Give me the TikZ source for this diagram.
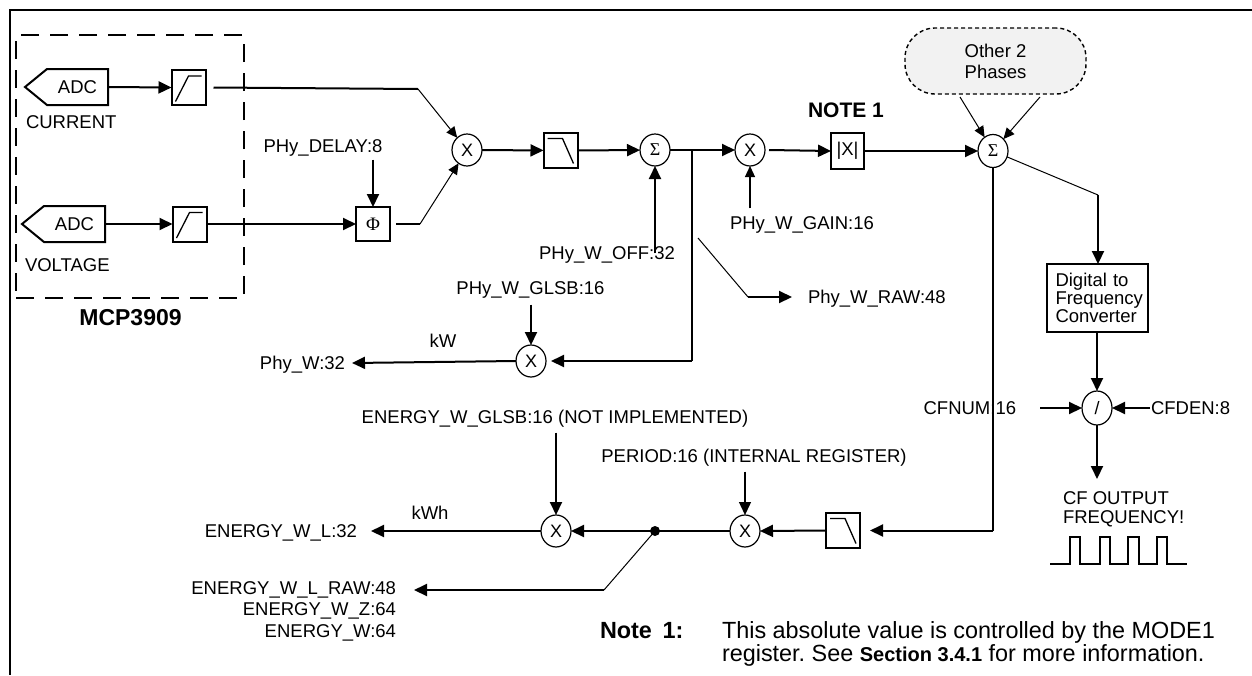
\documentclass[tikz,border=0pt]{standalone}
\usepackage{fontspec}
\setmainfont{Liberation Sans}
\newfontfamily\grserif{Liberation Serif}
\usetikzlibrary{arrows.meta,shapes.geometric}
\begin{document}
\frenchspacing
\begin{tikzpicture}[x=1pt,y=-1pt,
  every node/.style={inner sep=0pt, outer sep=0pt},
  lbl/.style={font=\fontsize{18.5}{21}\selectfont, text height=13.2pt, text depth=0pt},
  conn/.style={line width=2pt},
  thinl/.style={line width=1pt},
  arr/.style={-{Triangle[length=13pt,width=12pt]}},
  sarr/.style={-{Triangle[length=11pt,width=10pt]}},
  blk/.style={draw, line width=2pt, minimum width=34pt, minimum height=35pt},
  op/.style={draw, ellipse, line width=1.2pt, minimum width=30pt, minimum height=32pt, font=\fontsize{18}{20}\selectfont},
  sigop/.style={op, font=\grserif\fontsize{18}{20}\selectfont},
  adcbody/.style={minimum width=61pt, minimum height=36pt, font=\fontsize{18.5}{21}\selectfont},
  hpsym/.pic={\draw[line width=1.3pt] (-13,14) -- (0,-11.5) -- (13,-11.5);},
  lpsym/.pic={\draw[line width=1.3pt] (-13,-12) -- (2,-12) -- (13,13);},
]
\useasboundingbox (0,0) rectangle (1252,675);
% frame
\draw[line width=2pt] (1252,10) -- (10,10) -- (10,675);

% MCP3909 box
\node[draw, line width=2pt, dash pattern=on 18pt off 11pt, minimum width=228pt, minimum height=263pt] (mcp) at (130,166.5) {};
\node[font=\bfseries\fontsize{23}{25}\selectfont] (mcplbl) at (130.5,318) {MCP3909};

% ADCs
\node[adcbody] (adc1) at (77.5,87) {ADC};
\draw[line width=2pt] (adc1.north west) -- (adc1.north east) -- (adc1.south east) -- (adc1.south west) -- ++(-22,-18) -- cycle;
\node[adcbody] (adc2) at (74.5,224) {ADC};
\draw[line width=2pt] (adc2.north west) -- (adc2.north east) -- (adc2.south east) -- (adc2.south west) -- ++(-22,-18) -- cycle;
\node[lbl, anchor=west] (cur) at (26,122) {CURRENT};
\node[lbl, anchor=west] (volt) at (25,265) {VOLTAGE};

% high-pass filters
\node[blk] (hp1) at (188.5,87.5) {};
\pic at (hp1.center) {hpsym};
\node[blk] (hp2) at (189.5,224) {};
\pic at (hp2.center) {hpsym};
\draw[conn,arr] (adc1.east) -- (hp1.west);
\draw[conn,arr] (adc2.east) -- (hp2.west);

% phase delay
\node[blk, minimum width=34pt, minimum height=34pt, font=\grserif\fontsize{19}{21}\selectfont] (phi) at (373,224) {Φ};
\node[lbl] (delay) at (323,146) {PHy\_DELAY:8};
\draw[conn,arr] (hp2.east) -- (phi.west);
\draw[conn,arr] ([yshift=-7pt]phi.north |- delay.south) -- (phi.north);

% multiplier 1
\node[op] (x1) at (467,150) {X};
\coordinate (b1) at (418,89);
\coordinate (b2) at (420,224);
\draw[conn] ([xshift=8pt]hp1.east) -- (b1);
\draw[thinl,sarr] (b1) -- (x1);
\draw[conn] ([xshift=6pt]phi.east) -- (b2);
\draw[thinl,sarr] (b2) -- (x1);

% low-pass 1 and sum 1
\node[blk, minimum height=35pt] (lp1) at (560.5,150.5) {};
\pic at (lp1.center) {lpsym};
\node[sigop] (s1) at (655,150) {Σ};
\node[lbl] (woff) at (607,253) {PHy\_W\_OFF:32};
\draw[conn,arr] (x1) -- (lp1);
\draw[conn,arr] (lp1) -- (s1);
\draw[conn,arr] ([yshift=-7pt]s1.south |- woff.north) -- (s1.south);

% multiplier 2, abs
\coordinate (j1) at (692,150);
\node[op] (x2) at (750,150) {X};
\node[lbl, anchor=west] (gain) at (730,223) {PHy\_W\_GAIN:16};
\draw[conn] (s1) -- (j1);
\draw[conn,arr] (j1) -- (x2);
\draw[line width=1.2pt,sarr] ([yshift=8pt]x2.south |- gain.north) -- (x2.south);
\node[blk, minimum width=33pt, minimum height=36pt, font=\fontsize{18.5}{21}\selectfont] (abs) at (847.5,151) {|X|};
\node[font=\bfseries\fontsize{21}{23}\selectfont] (note1) at (846,110) {NOTE 1};
\draw[conn,arr] ([xshift=4pt]x2.east) -- (abs.west);

% other phases and sum 2
\node[draw, dash pattern=on 4pt off 3pt, line width=1.4pt, fill=black!5, rounded corners=30pt, minimum width=181pt, minimum height=66pt, align=center, font=\fontsize{18.5}{21}\selectfont] (cloud) at (995.5,61) {Other 2\\Phases};
\node[sigop, minimum height=33pt] (s2) at (993,151) {Σ};
\draw[conn,arr] (abs.east) -- (s2.west);
\draw[thinl,sarr] ([xshift=-35.5pt,yshift=-3pt]cloud.south) -- (s2);
\draw[thinl,sarr] ([xshift=44.5pt,yshift=-3pt]cloud.south) -- (s2);

% digital to frequency
\node[draw, line width=2pt, minimum width=101pt, minimum height=68pt, text width=84pt, align=left, font=\fontsize{18.5}{18}\selectfont] (dfc) at (1097.5,298) {Digital to\\Frequency\\Converter};
\coordinate (d1) at (1098,195);
\draw[thinl] (s2) -- (d1);
\draw[conn,arr] (d1) -- (d1 |- dfc.north);

% divider
\node[op, minimum height=34pt] (div) at (1097,408) {/};
\node[lbl, anchor=west] (cfnum) at (923.6,408) {CFNUM:16};
\node[lbl, anchor=west] (cfden) at (1151,408) {CFDEN:8};
\coordinate (cfa) at (1040,408);
\coordinate (cfo) at (1097,479);
\draw[conn,arr] (dfc.south -| div.north) -- (div.north);
\draw[conn,arr] (cfa) -- (div.west);
\draw[conn,arr] ([xshift=-1pt]cfden.west) -- (div.east);
\draw[conn,arr] (div.south) -- (cfo);
\node[anchor=north west, align=left, font=\fontsize{18.5}{19}\selectfont] (cfout) at (1063,491.4) {CF OUTPUT\\FREQUENCY!};
\draw[line width=2pt] (1050,564) -- (1070,564) -- (1070,537) -- (1080,537) -- (1080,564) -- (1100,564) -- (1100,537) -- (1110,537) -- (1110,564) -- (1128,564) -- (1128,537) -- (1139,537) -- (1139,564) -- (1157,564) -- (1157,537) -- (1167,537) -- (1167,564) -- (1187,564);

% power output branch
\coordinate (c1) at (692,361);
\node[op] (x3) at (531,361) {X};
\node[lbl] (glsb) at (530.5,288) {PHy\_W\_GLSB:16};
\node[lbl] (kw) at (443,341) {kW};
\node[lbl, anchor=east] (phyw) at (345,363) {Phy\_W:32};
\draw[conn] (j1) -- (c1);
\draw[conn,arr,shorten >=5pt] (c1) -- (x3.east);
\draw[conn,arr] ([yshift=-10pt]x3.north |- glsb.south) -- (x3.north);
\draw[conn,arr] (x3.west) -- ([xshift=7pt]phyw.east);

% raw power output
\coordinate (rt) at (698,238);
\coordinate (rb) at (748,297);
\node[lbl, anchor=west] (rawlbl) at (808,297) {Phy\_W\_RAW:48};
\draw[thinl] (rt) -- (rb);
\draw[conn,arr] (rb) -- ([xshift=-16pt]rawlbl.west);

% energy branch
\node[blk, minimum width=34pt, minimum height=35pt] (lp2) at (843,530.5) {};
\pic at (lp2.center) {lpsym};
\coordinate (c2) at (993,530.5);
\draw[conn] (s2.south) -- (c2);
\draw[conn,arr] (c2) -- ([xshift=10pt]lp2.east);
\node[op] (x5) at (745,531) {X};
\node[lbl] (period) at (754,456) {PERIOD:16 (INTERNAL REGISTER)};
\draw[conn,arr] (lp2.west) -- (x5.east);
\draw[line width=1.4pt,arr] ([yshift=-9pt]x5.north |- period.south) -- (x5.north);
\coordinate (dot) at (655,531);
\node[op] (x4) at (556,531) {X};
\node[lbl] (eglsb) at (555,417) {ENERGY\_W\_GLSB:16 (NOT IMPLEMENTED)};
\draw[conn] (x5.west) -- (dot);
\draw[conn,arr] (dot) -- (x4.east);
\fill (dot) circle[radius=5pt];
\draw[conn,arr] ([yshift=-9pt]x4.north |- eglsb.south) -- (x4.north);
\node[lbl, anchor=east] (ewl) at (357,531) {ENERGY\_W\_L:32};
\node[lbl] (kwh) at (430,513) {kWh};
\draw[conn,arr] (x4.west) -- ([xshift=14pt]ewl.east);
\coordinate (r1) at (604,590);
\node[lbl, anchor=east] (eraw) at (396,588) {ENERGY\_W\_L\_RAW:48};
\node[lbl, anchor=east] (ez) at (396,609) {ENERGY\_W\_Z:64};
\node[lbl, anchor=east] (ew) at (396,631) {ENERGY\_W:64};
\draw[thinl] (dot) -- (r1);
\draw[conn,arr] (r1) -- ([xshift=18pt]eraw.east |- r1);

% note
\node[anchor=base west, font=\bfseries\fontsize{23.4}{26}\selectfont] (notek) at (600,638) {Note\hspace{0.45em}1:};
\node[anchor=base west, font=\fontsize{23.4}{26}\selectfont] (notel1) at (722,638) {This absolute value is controlled by the MODE1};
\node[anchor=base west, font=\fontsize{23.4}{26}\selectfont] (notel2) at (722,661) {register. See {\bfseries\fontsize{20}{22}\selectfont Section 3.4.1} for more information.};
\end{tikzpicture}
\end{document}
